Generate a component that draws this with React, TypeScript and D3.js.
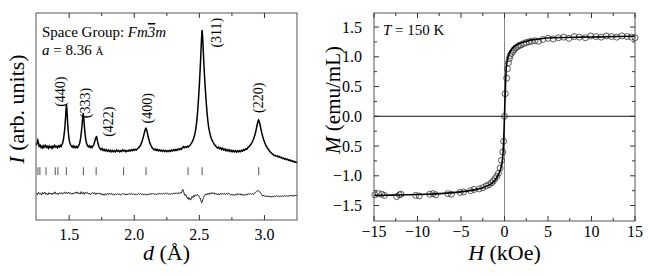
import React, { useEffect, useRef } from "react";
import * as d3 from "d3";

// ---- left panel: XRD pattern, d (Å) vs intensity (arb. units, 0-100 frame) ----
const xrdObs: [number, number][] = [
  [1.248, 36.0], [1.254, 37.6], [1.259, 38.6], [1.264, 37.2], [1.27, 35.6], [1.277, 36.1], [1.284, 35.0], [1.291, 35.7],
  [1.298, 34.8], [1.305, 35.9], [1.312, 35.2], [1.319, 36.0], [1.326, 35.1], [1.333, 35.6], [1.34, 34.7], [1.347, 35.8],
  [1.354, 35.0], [1.361, 35.5], [1.368, 34.6], [1.375, 35.7], [1.382, 35.1], [1.389, 36.0], [1.396, 35.2], [1.403, 35.6],
  [1.41, 34.9], [1.417, 35.8], [1.424, 35.3], [1.431, 36.1], [1.438, 35.5], [1.444, 36.4], [1.45, 37.2], [1.456, 39.0],
  [1.462, 41.8], [1.467, 45.0], [1.472, 49.5], [1.476, 53.5], [1.479, 56.0], [1.483, 53.0], [1.487, 48.0], [1.492, 43.5],
  [1.497, 40.0], [1.503, 37.6], [1.509, 36.6], [1.516, 35.8], [1.523, 35.2], [1.53, 35.9], [1.537, 35.0], [1.544, 35.6],
  [1.551, 34.9], [1.558, 35.5], [1.565, 35.0], [1.571, 35.8], [1.577, 36.4], [1.583, 37.8], [1.589, 40.0], [1.594, 42.8],
  [1.599, 46.0], [1.604, 49.8], [1.608, 51.6], [1.612, 49.0], [1.617, 45.0], [1.622, 41.5], [1.628, 38.6], [1.634, 37.0],
  [1.64, 36.0], [1.647, 35.4], [1.654, 35.9], [1.661, 35.1], [1.668, 35.6], [1.675, 35.0], [1.682, 35.7], [1.688, 36.3],
  [1.694, 37.4], [1.7, 38.8], [1.706, 40.0], [1.711, 40.2], [1.716, 38.6], [1.722, 36.8], [1.729, 35.4], [1.736, 34.5],
  [1.744, 34.0], [1.752, 34.5], [1.76, 33.6], [1.768, 34.2], [1.776, 33.4], [1.784, 34.0], [1.792, 33.2], [1.8, 33.8],
  [1.808, 33.1], [1.816, 33.7], [1.824, 33.0], [1.832, 33.6], [1.84, 32.9], [1.848, 33.5], [1.856, 33.0], [1.864, 33.8],
  [1.872, 33.2], [1.88, 33.6], [1.888, 32.9], [1.896, 33.5], [1.904, 33.1], [1.912, 33.9], [1.92, 33.3], [1.928, 33.7],
  [1.936, 33.0], [1.944, 33.6], [1.952, 33.2], [1.96, 33.8], [1.968, 33.3], [1.976, 33.9], [1.984, 33.5], [1.992, 34.1],
  [2.0, 33.6], [2.008, 34.2], [2.016, 33.8], [2.024, 34.4], [2.032, 34.9], [2.04, 35.3], [2.047, 36.0], [2.054, 37.0],
  [2.061, 38.3], [2.068, 39.8], [2.075, 41.5], [2.081, 43.0], [2.086, 44.0], [2.09, 44.3], [2.095, 43.6], [2.101, 42.0],
  [2.107, 40.2], [2.114, 38.4], [2.121, 37.0], [2.128, 36.0], [2.136, 35.0], [2.144, 34.4], [2.152, 33.9], [2.16, 34.3],
  [2.168, 33.6], [2.176, 34.1], [2.184, 33.4], [2.192, 33.9], [2.2, 33.3], [2.208, 33.8], [2.216, 33.2], [2.224, 33.7],
  [2.232, 33.1], [2.24, 33.6], [2.248, 33.0], [2.256, 33.5], [2.264, 33.1], [2.272, 33.7], [2.28, 33.2], [2.288, 33.8],
  [2.296, 33.4], [2.304, 34.0], [2.312, 33.5], [2.32, 34.1], [2.328, 33.6], [2.336, 34.3], [2.344, 33.9], [2.352, 34.5],
  [2.36, 34.1], [2.368, 34.8], [2.376, 35.4], [2.384, 34.9], [2.392, 35.4], [2.4, 35.0], [2.408, 35.6], [2.416, 35.3],
  [2.423, 35.9], [2.43, 36.2], [2.437, 36.9], [2.444, 37.6], [2.451, 38.6], [2.458, 39.8], [2.464, 41.2], [2.47, 43.0],
  [2.476, 45.6], [2.482, 49.0], [2.488, 53.5], [2.494, 59.0], [2.5, 65.5], [2.505, 71.5], [2.51, 78.0], [2.514, 84.0],
  [2.518, 89.0], [2.521, 91.8], [2.524, 89.5], [2.528, 84.5], [2.532, 79.0], [2.536, 74.0], [2.541, 68.0], [2.546, 63.0],
  [2.552, 57.5], [2.558, 52.5], [2.564, 48.6], [2.57, 45.4], [2.577, 43.0], [2.584, 41.0], [2.592, 39.4], [2.6, 38.2],
  [2.608, 37.3], [2.616, 36.5], [2.624, 35.9], [2.632, 35.3], [2.64, 34.8], [2.648, 35.2], [2.656, 34.4], [2.664, 34.9],
  [2.672, 34.0], [2.68, 34.6], [2.688, 33.8], [2.696, 34.3], [2.704, 33.5], [2.712, 34.1], [2.72, 33.3], [2.728, 33.9],
  [2.736, 33.1], [2.744, 33.7], [2.752, 33.0], [2.76, 33.6], [2.768, 32.9], [2.776, 33.5], [2.784, 32.8], [2.792, 33.4],
  [2.8, 32.9], [2.808, 33.5], [2.816, 33.0], [2.824, 33.7], [2.832, 33.3], [2.84, 34.0], [2.848, 33.7], [2.856, 34.4],
  [2.864, 34.2], [2.872, 35.0], [2.88, 35.3], [2.888, 36.0], [2.896, 36.6], [2.904, 37.4], [2.912, 38.5], [2.92, 39.8],
  [2.927, 41.2], [2.934, 43.0], [2.94, 44.8], [2.946, 46.6], [2.951, 47.9], [2.955, 48.3], [2.96, 47.6], [2.966, 46.0],
  [2.972, 44.2], [2.979, 42.2], [2.986, 40.4], [2.994, 38.8], [3.002, 37.4], [3.01, 36.2], [3.018, 35.3], [3.026, 34.4],
  [3.034, 33.8], [3.042, 33.0], [3.05, 32.6], [3.058, 32.0], [3.066, 31.7], [3.074, 31.2], [3.082, 31.3], [3.09, 30.8],
  [3.098, 31.0], [3.106, 30.4], [3.114, 30.7], [3.122, 30.1], [3.13, 30.3], [3.138, 29.7], [3.146, 30.0], [3.154, 29.4],
  [3.162, 29.6], [3.17, 29.1], [3.178, 29.4], [3.186, 28.8], [3.194, 29.0], [3.202, 28.5], [3.21, 28.8], [3.218, 28.2],
  [3.226, 28.4], [3.234, 27.9], [3.242, 28.1], [3.25, 27.6],
];

const xrdDiff: [number, number][] = [
  [1.248, 13.0], [1.256, 12.2], [1.264, 13.4], [1.272, 12.5], [1.28, 13.1], [1.288, 12.0], [1.296, 13.3], [1.304, 12.6],
  [1.312, 13.5], [1.32, 12.4], [1.328, 12.9], [1.336, 12.1], [1.344, 13.2], [1.352, 12.6], [1.36, 13.0], [1.368, 12.2],
  [1.376, 13.1], [1.384, 12.7], [1.392, 13.6], [1.4, 12.5], [1.408, 13.0], [1.416, 12.3], [1.424, 13.2], [1.432, 12.7],
  [1.44, 13.3], [1.448, 12.4], [1.456, 12.9], [1.464, 13.6], [1.472, 12.6], [1.48, 13.4], [1.488, 12.8], [1.496, 13.5],
  [1.504, 12.7], [1.512, 13.1], [1.52, 12.4], [1.528, 13.0], [1.536, 12.6], [1.544, 13.4], [1.552, 12.9], [1.56, 13.6],
  [1.568, 12.8], [1.576, 13.2], [1.584, 12.5], [1.592, 13.7], [1.6, 12.6], [1.608, 13.3], [1.616, 12.4], [1.624, 13.5],
  [1.632, 12.9], [1.64, 13.3], [1.648, 12.5], [1.656, 13.0], [1.664, 12.2], [1.672, 12.9], [1.68, 13.4], [1.688, 12.6],
  [1.696, 13.2], [1.704, 12.3], [1.712, 13.0], [1.72, 12.6], [1.728, 13.1], [1.736, 12.4], [1.744, 12.9], [1.752, 12.1],
  [1.76, 12.6], [1.768, 11.9], [1.776, 12.7], [1.784, 12.2], [1.792, 12.8], [1.8, 12.3], [1.808, 13.0], [1.816, 12.4],
  [1.824, 12.9], [1.832, 12.1], [1.84, 12.6], [1.848, 12.0], [1.856, 12.7], [1.864, 12.3], [1.872, 12.8], [1.88, 12.2],
  [1.888, 12.6], [1.896, 12.0], [1.904, 12.5], [1.912, 12.9], [1.92, 12.3], [1.928, 12.7], [1.936, 12.1], [1.944, 12.6],
  [1.952, 12.2], [1.96, 12.8], [1.968, 12.4], [1.976, 12.9], [1.984, 12.3], [1.992, 12.7], [2.0, 12.2], [2.008, 12.6],
  [2.016, 12.0], [2.024, 12.5], [2.032, 12.9], [2.04, 12.3], [2.048, 12.8], [2.056, 12.2], [2.064, 12.7], [2.072, 12.1],
  [2.08, 12.6], [2.088, 12.0], [2.096, 12.5], [2.104, 12.1], [2.112, 12.7], [2.12, 12.3], [2.128, 12.8], [2.136, 12.4],
  [2.144, 12.9], [2.152, 12.3], [2.16, 12.7], [2.168, 12.2], [2.176, 12.8], [2.184, 12.4], [2.192, 12.9], [2.2, 12.5],
  [2.208, 13.0], [2.216, 12.4], [2.224, 12.9], [2.232, 12.5], [2.24, 13.1], [2.248, 12.6], [2.256, 13.0], [2.264, 12.4],
  [2.272, 12.8], [2.28, 12.3], [2.288, 12.9], [2.296, 12.5], [2.304, 13.0], [2.312, 12.6], [2.32, 13.2], [2.328, 12.7],
  [2.336, 13.1], [2.344, 12.8], [2.352, 13.3], [2.36, 13.0], [2.366, 13.8], [2.372, 14.8], [2.378, 13.9], [2.384, 12.6],
  [2.39, 11.8], [2.396, 12.3], [2.402, 11.2], [2.408, 10.4], [2.414, 11.0], [2.42, 9.9], [2.426, 10.6], [2.432, 9.6],
  [2.438, 10.3], [2.444, 11.4], [2.45, 10.8], [2.456, 11.9], [2.462, 11.3], [2.47, 12.2], [2.478, 11.6], [2.486, 12.4],
  [2.494, 11.8], [2.502, 11.0], [2.508, 10.1], [2.514, 9.0], [2.518, 8.3], [2.522, 8.8], [2.526, 9.9], [2.532, 10.9],
  [2.54, 11.8], [2.548, 12.6], [2.556, 12.0], [2.564, 12.9], [2.572, 12.3], [2.58, 13.1], [2.588, 12.5], [2.596, 13.3],
  [2.604, 12.7], [2.612, 13.2], [2.62, 12.4], [2.628, 12.9], [2.636, 12.2], [2.644, 12.8], [2.652, 12.1], [2.66, 12.7],
  [2.668, 12.3], [2.676, 13.0], [2.684, 12.4], [2.692, 12.9], [2.7, 12.2], [2.708, 12.8], [2.716, 12.4], [2.724, 13.1],
  [2.732, 12.5], [2.74, 12.0], [2.748, 12.6], [2.756, 11.9], [2.764, 12.4], [2.772, 11.8], [2.78, 12.5], [2.788, 12.1],
  [2.796, 12.8], [2.804, 12.2], [2.812, 12.7], [2.82, 12.0], [2.828, 12.5], [2.836, 11.8], [2.844, 12.4], [2.852, 11.9],
  [2.86, 12.6], [2.868, 12.1], [2.876, 12.8], [2.884, 12.3], [2.892, 12.9], [2.9, 12.4], [2.908, 12.7], [2.916, 12.3],
  [2.924, 13.0], [2.932, 13.5], [2.94, 13.9], [2.948, 14.2], [2.956, 14.1], [2.964, 13.5], [2.972, 12.8], [2.98, 12.1],
  [2.988, 11.6], [2.996, 11.9], [3.004, 11.3], [3.012, 11.8], [3.02, 11.2], [3.028, 11.7], [3.036, 11.1], [3.044, 11.6],
  [3.052, 11.0], [3.06, 11.5], [3.068, 11.1], [3.076, 11.7], [3.084, 11.2], [3.092, 11.8], [3.1, 11.3], [3.108, 11.7],
  [3.116, 11.1], [3.124, 11.6], [3.132, 11.2], [3.14, 11.8], [3.148, 11.3], [3.156, 11.9], [3.164, 11.4], [3.172, 11.8],
  [3.18, 11.3], [3.188, 11.9], [3.196, 11.5], [3.204, 12.0], [3.212, 11.4], [3.22, 11.9], [3.228, 11.5], [3.236, 12.1],
  [3.244, 11.6], [3.25, 12.0],
];

// Bragg positions (d, Å)
const braggD = [1.26, 1.275, 1.322, 1.393, 1.413, 1.478, 1.609, 1.707, 1.918, 2.09, 2.413, 2.521, 2.956];

// peak labels: text, d position of label, intensity of label centre
const peakNames = ["(440)", "(333)", "(422)", "(400)", "(311)", "(220)"];
const peakLabelD = [1.435, 1.626, 1.8, 2.1, 2.635, 2.951];
const peakLabelI = [62, 56.5, 47.5, 54, 90.5, 59];

const dTicks = [1.5, 2.0, 2.5, 3.0];
const dMinor = [1.75, 2.25, 2.75];

// ---- right panel: M(H) loop at 150 K ----
const fitH = [-15, -13, -11, -9, -7, -5, -4, -3, -2.5, -2, -1.5, -1.2, -0.9, -0.6, -0.4, -0.25, -0.12, -0.05, 0,
  0.05, 0.12, 0.2, 0.3, 0.45, 0.6, 0.8, 1.1, 1.5, 2, 2.5, 3, 4, 5, 7, 9, 11, 13, 15];
const fitM = [-1.33, -1.325, -1.32, -1.31, -1.295, -1.27, -1.25, -1.22, -1.2, -1.17, -1.13, -1.09, -1.03, -0.95, -0.86,
  -0.74, -0.5, -0.22, 0, 0.24, 0.55, 0.8, 0.92, 1.01, 1.07, 1.12, 1.17, 1.21, 1.24, 1.26, 1.28, 1.3, 1.315, 1.325,
  1.33, 1.335, 1.34, 1.345];

const dataH = [-14.9, -14.5, -14.1, -13.8, -12.4, -12.1, -11.9, -10.2, -9.8, -8.6, -8.2, -7.9, -6.5, -6.1, -5.1, -4.7,
  -3.9, -3.5, -2.9, -2.5, -2.1, -1.8, -1.5, -1.3, -1.1, -0.9, -0.7, -0.5, -0.35, -0.2, -0.1, 0, 0.08, 0.25, 0.33, 0.45,
  0.55, 0.65, 0.8, 0.95, 1.1, 1.3, 1.5, 1.7, 1.9, 2.2, 2.5, 2.8, 3.1, 3.5, 3.9, 4.4, 5.0, 5.6, 6.2, 6.8, 7.4, 8.0, 8.6,
  9.3, 9.9, 10.5, 11.1, 11.7, 12.3, 12.9, 13.5, 14.1, 14.6, 15.0];
const dataM = [-1.32, -1.3, -1.31, -1.33, -1.35, -1.32, -1.31, -1.33, -1.34, -1.31, -1.3, -1.32, -1.3, -1.31, -1.28,
  -1.27, -1.25, -1.23, -1.22, -1.2, -1.17, -1.15, -1.12, -1.09, -1.05, -1.01, -0.96, -0.87, -0.74, -0.6, -0.42, 0, 0.38,
  0.64, 0.8, 0.9, 0.97, 1.02, 1.06, 1.09, 1.12, 1.15, 1.17, 1.19, 1.2, 1.22, 1.24, 1.25, 1.26, 1.27, 1.26, 1.29, 1.31,
  1.3, 1.32, 1.33, 1.31, 1.34, 1.33, 1.32, 1.35, 1.34, 1.33, 1.35, 1.34, 1.33, 1.35, 1.34, 1.33, 1.32];

const hTicks = [-15, -10, -5, 0, 5, 10, 15];
const hMinor = [-12.5, -7.5, -2.5, 2.5, 7.5, 12.5];
const mTicks = [-1.5, -1.0, -0.5, 0.0, 0.5, 1.0, 1.5];
const mMinor = [-1.25, -0.75, -0.25, 0.25, 0.75, 1.25];

const FONT = "'Liberation Serif', 'Times New Roman', serif";

export default function App() {
  const ref = useRef<SVGSVGElement>(null);

  useEffect(() => {
    const svg = d3.select(ref.current);
    svg.selectAll("*").remove();
    svg.attr("font-family", FONT);

    // ===== left panel =====
    const L = { x0: 36, x1: 297, y0: 13, y1: 220 };
    const xd = d3.scaleLinear().domain([1.245, 3.25]).range([L.x0, L.x1]);
    const yi = d3.scaleLinear().domain([0, 100]).range([L.y1, L.y0]);
    const gl = svg.append("g");

    const line = d3.line<[number, number]>().x(d => xd(d[0])).y(d => yi(d[1]));
    gl.append("path").attr("d", line(xrdDiff)).attr("fill", "none").attr("stroke", "#222").attr("stroke-width", 1);
    gl.append("path").attr("d", line(xrdObs)).attr("fill", "none").attr("stroke", "#000").attr("stroke-width", 1.5);

    gl.selectAll("line.bragg").data(braggD).enter().append("line")
      .attr("x1", d => xd(d)).attr("x2", d => xd(d))
      .attr("y1", yi(25.5)).attr("y2", yi(21.7))
      .attr("stroke", "#555").attr("stroke-width", 1);

    peakNames.forEach((name, i) => {
      const x = xd(peakLabelD[i]), y = yi(peakLabelI[i]);
      gl.append("text").attr("transform", `translate(${x},${y}) rotate(-90)`)
        .attr("text-anchor", "middle").attr("dominant-baseline", "central")
        .attr("font-size", 14).text(name);
    });

    gl.append("rect").attr("x", L.x0).attr("y", L.y0).attr("width", L.x1 - L.x0).attr("height", L.y1 - L.y0)
      .attr("fill", "none").attr("stroke", "#555").attr("stroke-width", 1);

    const tickX = (g: any, vals: number[], sc: any, len: number, y0: number, y1: number) => {
      vals.forEach(v => {
        g.append("line").attr("x1", sc(v)).attr("x2", sc(v)).attr("y1", y1).attr("y2", y1 - len).attr("stroke", "#333");
        g.append("line").attr("x1", sc(v)).attr("x2", sc(v)).attr("y1", y0).attr("y2", y0 + len).attr("stroke", "#333");
      });
    };
    const tickY = (g: any, vals: number[], sc: any, len: number, x0: number, x1: number) => {
      vals.forEach(v => {
        g.append("line").attr("y1", sc(v)).attr("y2", sc(v)).attr("x1", x0).attr("x2", x0 + len).attr("stroke", "#333");
        g.append("line").attr("y1", sc(v)).attr("y2", sc(v)).attr("x1", x1).attr("x2", x1 - len).attr("stroke", "#333");
      });
    };
    tickX(gl, dTicks, xd, 5, L.y0, L.y1);
    tickX(gl, dMinor, xd, 3, L.y0, L.y1);

    gl.selectAll("text.xt").data(dTicks).enter().append("text")
      .attr("x", d => xd(d)).attr("y", 240).attr("text-anchor", "middle").attr("font-size", 16)
      .text(d => d3.format(".1f")(d));

    const sg = gl.append("text").attr("x", 42).attr("y", 37).attr("font-size", 15);
    sg.append("tspan").text("Space Group: ");
    sg.append("tspan").attr("font-style", "italic").text("Fm");
    sg.append("tspan").attr("font-style", "italic").attr("text-decoration", "overline").text("3");
    sg.append("tspan").attr("font-style", "italic").text("m");
    const at = gl.append("text").attr("x", 42).attr("y", 55).attr("font-size", 15);
    at.append("tspan").attr("font-style", "italic").text("a");
    at.append("tspan").text(" = 8.36 ");
    at.append("tspan").attr("font-size", 11).text("Å");

    const xl = gl.append("text").attr("x", (L.x0 + L.x1) / 2).attr("y", 260).attr("text-anchor", "middle").attr("font-size", 22);
    xl.append("tspan").attr("font-style", "italic").text("d");
    xl.append("tspan").text(" (Å)");
    const yl = gl.append("text").attr("transform", "translate(24,109) rotate(-90)").attr("text-anchor", "middle").attr("font-size", 22);
    yl.append("tspan").attr("font-style", "italic").text("I");
    yl.append("tspan").text(" (arb. units)");

    // ===== right panel =====
    const R = { x0: 374, x1: 635, y0: 13, y1: 221 };
    const xh = d3.scaleLinear().domain([-15, 15]).range([R.x0, R.x1]);
    const ym = d3.scaleLinear().domain([-1.76, 1.736]).range([R.y1, R.y0]);
    const gr = svg.append("g");

    gr.append("line").attr("x1", xh(0)).attr("x2", xh(0)).attr("y1", R.y0).attr("y2", R.y1).attr("stroke", "#888").attr("stroke-width", 1);
    gr.append("line").attr("x1", R.x0).attr("x2", R.x1).attr("y1", ym(0)).attr("y2", ym(0)).attr("stroke", "#111").attr("stroke-width", 1);

    gr.append("g").selectAll("circle").data(dataH).enter().append("circle")
      .attr("cx", d => xh(d)).attr("cy", (d, i) => ym(dataM[i])).attr("r", 3)
      .attr("fill", "none").attr("stroke", "#333").attr("stroke-width", 0.8);

    const fit = d3.line<number>().x(d => xh(d)).y((d, i) => ym(fitM[i])).curve(d3.curveMonotoneX);
    gr.append("path").attr("d", fit(fitH)).attr("fill", "none").attr("stroke", "#000").attr("stroke-width", 1.6);

    gr.append("rect").attr("x", R.x0).attr("y", R.y0).attr("width", R.x1 - R.x0).attr("height", R.y1 - R.y0)
      .attr("fill", "none").attr("stroke", "#555").attr("stroke-width", 1);

    tickX(gr, hTicks, xh, 5, R.y0, R.y1);
    tickX(gr, hMinor, xh, 3, R.y0, R.y1);
    tickY(gr, mTicks, ym, 5, R.x0, R.x1);
    tickY(gr, mMinor, ym, 3, R.x0, R.x1);

    gr.selectAll("text.xt").data(hTicks).enter().append("text")
      .attr("x", d => xh(d)).attr("y", 237).attr("text-anchor", "middle").attr("font-size", 16)
      .text(d => d3.format("d")(d));
    gr.selectAll("text.yt").data(mTicks).enter().append("text")
      .attr("x", 362).attr("y", d => ym(d)).attr("dy", "0.35em").attr("text-anchor", "end").attr("font-size", 16)
      .text(d => d3.format(".1f")(d));

    const tt = gr.append("text").attr("x", 383).attr("y", 35).attr("font-size", 15);
    tt.append("tspan").attr("font-style", "italic").text("T");
    tt.append("tspan").text(" = 150 K");

    const hl = gr.append("text").attr("x", (R.x0 + R.x1) / 2).attr("y", 260).attr("text-anchor", "middle").attr("font-size", 22);
    hl.append("tspan").attr("font-style", "italic").text("H");
    hl.append("tspan").text(" (kOe)");
    const ml = gr.append("text").attr("transform", "translate(340,100) rotate(-90)").attr("text-anchor", "middle").attr("font-size", 21);
    ml.append("tspan").attr("font-style", "italic").text("M");
    ml.append("tspan").text(" (emu/mL)");
  }, []);

  return (
    <svg ref={ref} width={654} height={276}
      style={{ position: "absolute", left: 0, top: 0, background: "#fff" }} />
  );
}
